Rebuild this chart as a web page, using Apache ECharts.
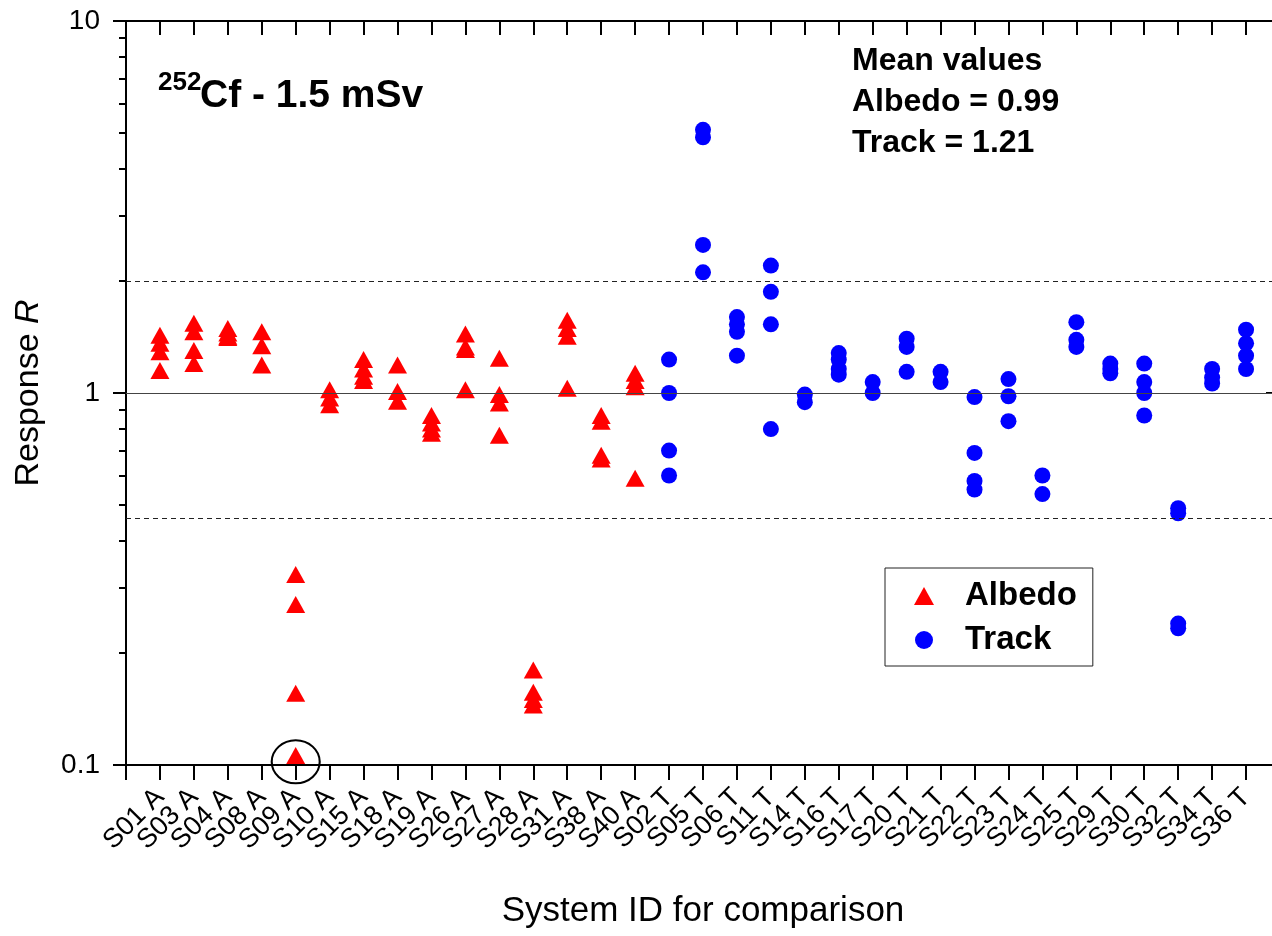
<!DOCTYPE html>
<html>
<head>
<meta charset="utf-8">
<script src="https://cdn.jsdelivr.net/npm/echarts@6/dist/echarts.min.js"></script>
<style>
  html, body { margin: 0; padding: 0; background: #fff; }
  #chart { width: 1272px; height: 936px; }
</style>
</head>
<body>
<div id="chart"></div>
<script>
// system ids, albedo dosimeters first, then track dosimeters
const albedoIds = ['S01', 'S03', 'S04', 'S08', 'S09', 'S10', 'S15', 'S18', 'S19', 'S26', 'S27', 'S28', 'S31', 'S38', 'S40']
const trackIds = ['S02', 'S05', 'S06', 'S11', 'S14', 'S16', 'S17', 'S20', 'S21', 'S22', 'S23', 'S24', 'S25', 'S29', 'S30', 'S32', 'S34', 'S36']

// response R of each dosimeter, one list per system
const albedoValues = [
  [1.43, 1.36, 1.29, 1.15],
  [1.54, 1.46, 1.30, 1.20],
  [1.49, 1.45, 1.42, 1.41],
  [1.46, 1.34, 1.19],
  [0.325, 0.27, 0.156, 0.106],
  [1.02, 0.97, 0.93],
  [1.23, 1.16, 1.11, 1.08],
  [1.19, 1.01, 0.95],
  [0.87, 0.83, 0.80, 0.78],
  [1.44, 1.33, 1.31, 1.02],
  [1.24, 0.99, 0.94, 0.77],
  [0.18, 0.157, 0.15, 0.145],
  [1.57, 1.49, 1.42, 1.03],
  [0.87, 0.84, 0.68, 0.665],
  [1.13, 1.08, 1.04, 0.59]
]
const trackValues = [
  [1.23, 1.0, 0.70, 0.60],
  [5.1, 4.87, 2.5, 2.11],
  [1.60, 1.53, 1.46, 1.26],
  [2.2, 1.87, 1.53, 0.80],
  [0.99, 0.945],
  [1.28, 1.23, 1.16, 1.12],
  [1.07, 1.0],
  [1.40, 1.33, 1.14],
  [1.14, 1.07],
  [0.975, 0.69, 0.58, 0.55],
  [1.09, 0.98, 0.84],
  [0.60, 0.535],
  [1.55, 1.39, 1.33],
  [1.20, 1.16, 1.13],
  [1.20, 1.07, 1.0, 0.87],
  [0.49, 0.475, 0.24, 0.233],
  [1.16, 1.10, 1.06],
  [1.48, 1.36, 1.26, 1.16]
]

// reference lines and the circled outlier
const refLine = 1
const limitLines = [2.0, 0.46]
const circled = [5, 0.102]
const minorTicks = [0.2, 0.3, 0.4, 0.5, 0.6, 0.7, 0.8, 0.9, 2, 3, 4, 5, 6, 7, 8, 9]

const labels = albedoIds.map(s => s + ' A').concat(trackIds.map(s => s + ' T'))
const albedoData = []
albedoValues.forEach((vals, i) => vals.forEach(v => albedoData.push([i + 1, v])))
const trackData = []
trackValues.forEach((vals, i) => vals.forEach(v => trackData.push([albedoIds.length + i + 1, v])))

const font = "'Liberation Sans', Arial, Helvetica, sans-serif"
const black = '#000'

const logTicks = minorTicks.map(v => Math.log10(v))

const xBase = {
  type: 'value', min: 0, max: labels.length + 1, interval: 1,
  splitLine: { show: false },
  axisLine: { onZero: false, lineStyle: { color: black, width: 2 } }
}
const yLine = { onZero: false, lineStyle: { color: black, width: 2 } }

const option = {
  animation: false,
  backgroundColor: '#fff',
  textStyle: { fontFamily: font },
  grid: { left: 126, top: 21, width: 1154, height: 744, outerBoundsMode: 'none', containLabel: false },
  xAxis: [
    Object.assign({}, xBase, {
      position: 'bottom',
      name: 'System ID for comparison',
      nameLocation: 'middle',
      nameGap: 129,
      nameTextStyle: { fontSize: 35, color: black, fontFamily: font },
      axisTick: { inside: false, length: 15, lineStyle: { color: black, width: 2 } },
      axisLabel: {
        rotate: 45, margin: 28, fontSize: 27, color: black, fontFamily: font,
        formatter: v => labels[v - 1] || ''
      }
    }),
    Object.assign({}, xBase, {
      position: 'top',
      axisTick: { inside: true, length: 14, lineStyle: { color: black, width: 2 } },
      axisLabel: { show: false }
    })
  ],
  yAxis: [
    {
      type: 'log', logBase: 10, min: 0.1, max: 10, position: 'left',
      name: 'Response {i|R}',
      nameLocation: 'middle',
      nameGap: 80,
      nameTextStyle: {
        fontSize: 34, color: black, fontFamily: font,
        rich: { i: { fontSize: 34, fontStyle: 'italic', color: black, fontFamily: font } }
      },
      splitLine: { show: false },
      axisLine: yLine,
      axisTick: { inside: false, length: 13, lineStyle: { color: black, width: 2 } },
      axisLabel: {
        margin: 26, fontSize: 28, color: black, fontFamily: font,
        formatter: v => String(v)
      }
    },
    {
      type: 'value', min: -1, max: 1, position: 'left',
      splitLine: { show: false },
      axisLine: { show: false, onZero: false },
      axisTick: { inside: false, length: 7, customValues: logTicks, lineStyle: { color: black, width: 2 } },
      axisLabel: { show: false }
    },
    {
      type: 'log', logBase: 10, min: 0.1, max: 10, position: 'right',
      splitLine: { show: false },
      axisLine: yLine,
      axisTick: { inside: true, length: 14, lineStyle: { color: black, width: 2 } },
      axisLabel: { show: false }
    },
    {
      type: 'value', min: -1, max: 1, position: 'right',
      splitLine: { show: false },
      axisLine: { show: false, onZero: false },
      axisTick: { inside: true, length: 7, customValues: logTicks, lineStyle: { color: black, width: 2 } },
      axisLabel: { show: false }
    }
  ],
  legend: {
    orient: 'vertical',
    left: 885, top: 568,
    padding: [11, 16, 9, 29],
    borderColor: '#222', borderWidth: 1,
    itemWidth: 20, itemHeight: 18, itemGap: 10,
    textStyle: {
      fontSize: 33, fontWeight: 'bold', color: black, fontFamily: font,
      lineHeight: 34, padding: [0, 0, 0, 26]
    },
    data: ['Albedo', 'Track']
  },
  series: [
    {
      name: 'Albedo', type: 'scatter', symbol: 'triangle', symbolSize: [19, 17],
      itemStyle: { color: '#ff0000', opacity: 1 },
      data: albedoData,
      markLine: {
        silent: true, symbol: 'none', label: { show: false },
        data: [
          { yAxis: refLine, lineStyle: { type: 'solid', color: '#444', width: 1.2 } },
          { yAxis: limitLines[0], lineStyle: { type: [5, 4], color: '#222', width: 1.2 } },
          { yAxis: limitLines[1], lineStyle: { type: [5, 4], color: '#222', width: 1.2 } }
        ]
      },
      markPoint: {
        silent: true, symbol: 'circle', symbolSize: [48, 43],
        itemStyle: { color: 'rgba(0,0,0,0)', borderColor: black, borderWidth: 2 },
        label: { show: false },
        data: [{ coord: circled }]
      }
    },
    {
      name: 'Track', type: 'scatter', symbol: 'circle', symbolSize: 16,
      itemStyle: { color: '#0000ff', opacity: 1 },
      data: trackData
    }
  ],
  graphic: [
    { type: 'text', left: 158, top: 70, style: { text: '252', font: 'bold 26px ' + font, fill: black } },
    { type: 'text', left: 200, top: 77, style: { text: 'Cf - 1.5 mSv', font: 'bold 39px ' + font, fill: black } },
    { type: 'text', left: 852, top: 45, style: { text: 'Mean values', font: 'bold 32px ' + font, fill: black } },
    { type: 'text', left: 852, top: 86, style: { text: 'Albedo = 0.99', font: 'bold 32px ' + font, fill: black } },
    { type: 'text', left: 852, top: 127, style: { text: 'Track = 1.21', font: 'bold 32px ' + font, fill: black } }
  ]
}

const chart = echarts.init(document.getElementById('chart'), null, { renderer: 'canvas' })
chart.setOption(option)
</script>
</body>
</html>
